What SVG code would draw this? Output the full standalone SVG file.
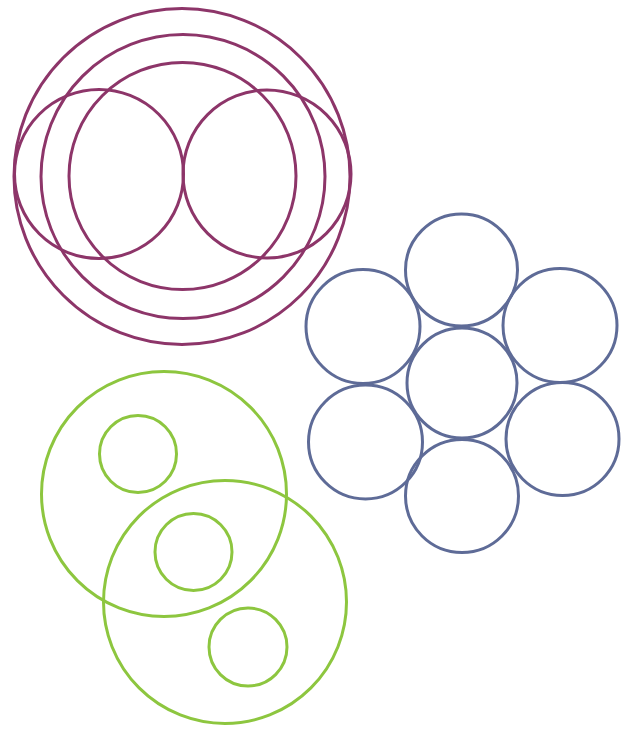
<svg xmlns="http://www.w3.org/2000/svg" width="629" height="733" viewBox="0 0 629 733">
<style>
.p{fill:none;stroke:#8d3569;stroke-width:3}
.b{fill:none;stroke:#5e6b97;stroke-width:3}
.g{fill:none;stroke:#8dc63f;stroke-width:3}
</style>
<rect width="629" height="733" fill="#ffffff"/>
<g id="purple">
<circle class="p" cx="182" cy="176.5" r="168"/>
<circle class="p" cx="183" cy="176.5" r="142"/>
<circle class="p" cx="182.5" cy="176" r="113.5"/>
<circle class="p" cx="99" cy="174" r="84.5"/>
<circle class="p" cx="267" cy="174" r="84"/>
</g>
<g id="blue">
<circle class="b" cx="461.5" cy="270" r="56"/>
<circle class="b" cx="363" cy="326.5" r="57"/>
<circle class="b" cx="560" cy="325.5" r="57"/>
<circle class="b" cx="462" cy="383" r="55"/>
<circle class="b" cx="365.5" cy="442" r="57"/>
<circle class="b" cx="562.5" cy="439" r="56.5"/>
<circle class="b" cx="462" cy="496" r="56.5"/>
</g>
<g id="green">
<circle class="g" cx="164" cy="494" r="122.5"/>
<circle class="g" cx="225" cy="602" r="121.5"/>
<circle class="g" cx="138" cy="454" r="38.5"/>
<circle class="g" cx="193.5" cy="552" r="38.5"/>
<circle class="g" cx="248" cy="647" r="39"/>
</g>
</svg>
